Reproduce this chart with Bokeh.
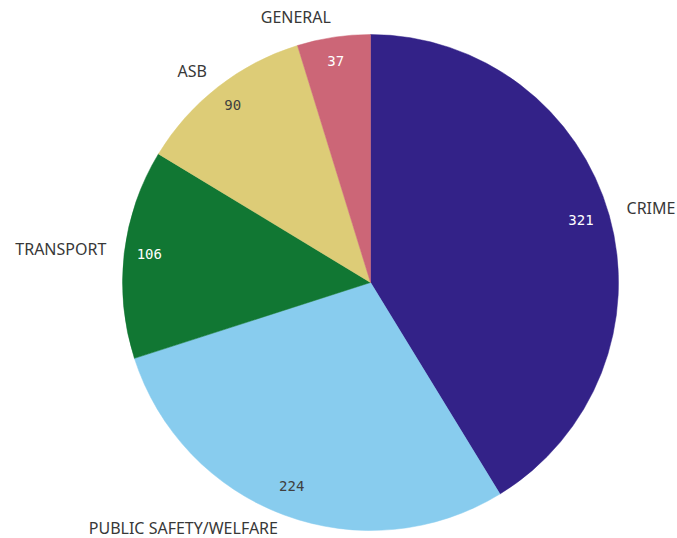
import numpy as np
from bokeh.plotting import figure
from bokeh.models import Range1d, ColumnDataSource
from bokeh.core.properties import value
from bokeh.embed import file_html
from bokeh.resources import INLINE

categories = ["CRIME", "PUBLIC SAFETY/WELFARE", "TRANSPORT", "ASB", "GENERAL"]
counts = [321, 224, 106, 90, 37]
colors = ["#332288", "#88CCEE", "#117733", "#DDCC77", "#CC6677"]
value_colors = ["#ffffff", "#404040", "#ffffff", "#404040", "#ffffff"]

W, H = 677, 538
cx, cy, R = 370, 256, 248

vals = np.array(counts, dtype=float)
frac = vals / vals.sum()
cum_end = np.cumsum(frac) * 2 * np.pi
cum_start = cum_end - frac * 2 * np.pi
start = np.pi / 2 - cum_start
end = np.pi / 2 - cum_end
mid_cw = (cum_start + cum_end) / 2  # clockwise from top

p = figure(width=W, height=H, output_backend="svg", toolbar_location=None,
           x_range=Range1d(0, W), y_range=Range1d(0, H), min_border=0)
p.axis.visible = False
p.grid.visible = False
p.outline_line_color = None

src = ColumnDataSource(dict(start=start, end=end, color=colors))
p.wedge(x=cx, y=cy, radius=R, start_angle="start", end_angle="end",
        direction="clock", fill_color="color", line_color="color", line_width=0.5,
        source=src)

# value labels inside
rv = 0.89 * R
vx = cx + rv * np.sin(mid_cw) - 2
vy = cy + rv * np.cos(mid_cw) + 3
p.text(x=vx, y=vy, text=[str(c) for c in counts], text_color=value_colors,
       text_font=value("DejaVu Sans Mono"), text_font_size="14px",
       text_align="center", text_baseline="middle")

# category labels outside
ro = R + 18
lx = cx + ro * np.sin(mid_cw)
ly = np.maximum(cy + ro * np.cos(mid_cw) + 2, 11)
align = ["left" if x >= cx else "right" for x in lx]
lsrc = ColumnDataSource(dict(x=lx, y=ly, t=categories, a=align))
p.text(x="x", y="y", text="t", text_align="a", source=lsrc,
       text_color="#383838", text_font=value("Noto Sans"), text_font_size="16px",
       text_baseline="middle")

open("out.html", "w").write(file_html(p, INLINE))
